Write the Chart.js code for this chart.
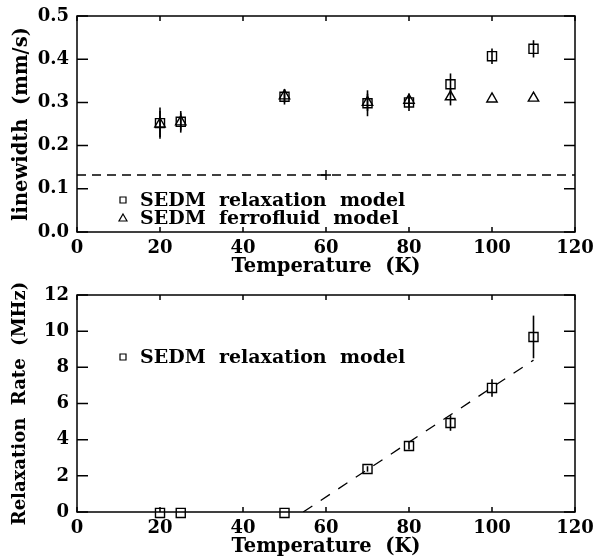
<!DOCTYPE html>
<html>
<head>
<meta charset="utf-8">
<script src="https://cdn.jsdelivr.net/npm/chart.js@4.4.1/dist/chart.umd.min.js"></script>
<style>
  body { margin: 0; background: #fff; }
  .panel { position: absolute; left: 0; width: 595px; }
</style>
</head>
<body>
<div class="panel" style="top:0;height:280px"><canvas id="linewidth" width="595" height="280"></canvas></div>
<div class="panel" style="top:266px;height:294px"><canvas id="rate" width="595" height="294"></canvas></div>
<script>
// Temperaturas medidas (K)
const temps = [20, 25, 50, 70, 80, 90, 100, 110];

// Painel de cima: largura de linha (mm/s)
const widthRelax = [0.252, 0.255, 0.313, 0.298, 0.300, 0.342, 0.407, 0.424];
const widthRelaxErr = [0.036, 0.025, 0.018, 0.030, 0.020, 0.025, 0.018, 0.020];
const widthFerro = [0.250, 0.255, 0.315, 0.300, 0.305, 0.313, 0.308, 0.310];
const widthFerroErr = [0.030, 0.020, 0.015, 0.020, 0.015, 0.020, 0, 0];
const baseTemps = [0, 120];
const baseWidth = [0.132, 0.132];
const baseMarkT = [60];
const baseMarkW = [0.132];

// Painel de baixo: taxa de relaxação (MHz)
const rate = [-0.05, -0.05, -0.05, 2.38, 3.65, 4.92, 6.86, 9.68];
const rateErr = [0, 0, 0, 0.15, 0.2, 0.43, 0.48, 1.18];
const fitTemps = [54.5, 110];
const fitRate = [0, 8.4];

const xTicks = [0, 20, 40, 60, 80, 100, 120];

Chart.defaults.font.family = "'DejaVu Serif', serif";
Chart.defaults.font.weight = 'bold';
Chart.defaults.font.size = 18;
Chart.defaults.color = '#000';
Chart.defaults.animation = false;

const pts = (xs, ys) => xs.map((x, i) => ({ x: x, y: ys[i] }));

// barras de erro + moldura com ticks para dentro + legenda
function extras(errs, legend) {
  return {
    id: 'extras',
    afterDatasetsDraw(chart) {
      const { ctx, chartArea: a, scales: { x, y } } = chart;
      ctx.save();
      ctx.strokeStyle = '#000';
      ctx.lineWidth = 1.6;
      // barras de erro
      errs.forEach(([di, vals]) => {
        chart.data.datasets[di].data.forEach((p, i) => {
          const e = vals[i];
          if (!e) return;
          const px = x.getPixelForValue(p.x);
          ctx.beginPath();
          ctx.moveTo(px, y.getPixelForValue(p.y - e));
          ctx.lineTo(px, y.getPixelForValue(p.y + e));
          ctx.stroke();
        });
      });
      // moldura
      ctx.lineWidth = 1.5;
      ctx.strokeRect(a.left, a.top, a.right - a.left, a.bottom - a.top);
      ctx.beginPath();
      x.ticks.forEach(t => {
        const px = x.getPixelForValue(t.value);
        ctx.moveTo(px, a.bottom); ctx.lineTo(px, a.bottom - 5);
        ctx.moveTo(px, a.top); ctx.lineTo(px, a.top + 5);
      });
      y.ticks.forEach(t => {
        const py = y.getPixelForValue(t.value);
        ctx.moveTo(a.left, py); ctx.lineTo(a.left + 11, py);
        ctx.moveTo(a.right, py); ctx.lineTo(a.right - 11, py);
      });
      ctx.stroke();
      // legenda
      ctx.font = "bold 19px 'DejaVu Serif', serif";
      ctx.fillStyle = '#000';
      ctx.lineWidth = 1.2;
      legend.forEach(item => {
        const mx = a.left + 46, my = a.top + item.dy;
        ctx.beginPath();
        if (item.style === 'rect') {
          ctx.rect(mx - 3, my - 3, 6, 6);
        } else {
          ctx.moveTo(mx, my - 4); ctx.lineTo(mx + 4, my + 3); ctx.lineTo(mx - 4, my + 3); ctx.closePath();
        }
        ctx.stroke();
        ctx.textBaseline = 'alphabetic';
        ctx.fillText(item.text, a.left + 63, my + 6);
      });
      ctx.restore();
    }
  };
}

function scalesFor(yMin, yMax, yStep, yTitle, yTitleSize, yFmt) {
  return {
    x: {
      type: 'linear', min: 0, max: 120,
      afterBuildTicks: s => { s.ticks = xTicks.map(v => ({ value: v })); },
      afterFit: s => { s.height = 48; s.paddingLeft = 0; s.paddingRight = 0; },
      grid: { display: false, drawTicks: false },
      border: { display: false },
      ticks: { padding: 6, maxRotation: 0 },
      title: { display: true, text: 'Temperature  (K)', font: { size: 19.5, weight: 'bold' }, padding: { top: 0, bottom: 1 } }
    },
    y: {
      type: 'linear', min: yMin, max: yMax,
      afterFit: s => { s.width = 77; s.paddingTop = 0; s.paddingBottom = 0; },
      grid: { display: false, drawTicks: false },
      border: { display: false },
      ticks: { stepSize: yStep, padding: 8, callback: yFmt },
      title: { display: true, text: yTitle, font: { size: yTitleSize, weight: 'bold' }, padding: { top: 10, bottom: 0 } }
    }
  };
}

new Chart(document.getElementById('linewidth'), {
  type: 'scatter',
  data: {
    datasets: [
      { data: pts(temps, widthRelax), pointStyle: 'rect', pointRadius: 6.4, borderColor: '#000', borderWidth: 1.4, backgroundColor: 'transparent', clip: false },
      { data: pts(temps, widthFerro), pointStyle: 'triangle', pointRadius: 6, borderColor: '#000', borderWidth: 1.4, backgroundColor: 'transparent', clip: false },
      { data: pts(baseTemps, baseWidth), showLine: true, pointRadius: 0, borderColor: '#000', borderWidth: 1.3, borderDash: [9, 6] },
      { data: pts(baseMarkT, baseMarkW), pointStyle: 'cross', pointRadius: 5, borderColor: '#000', borderWidth: 1.4 }
    ]
  },
  options: {
    responsive: false,
    layout: { padding: { top: 16, right: 20, left: 0, bottom: 0 } },
    plugins: { legend: { display: false }, tooltip: { enabled: false } },
    scales: scalesFor(0, 0.5, 0.1, 'linewidth  (mm/s)', 19.5, v => v.toFixed(1))
  },
  plugins: [extras([[0, widthRelaxErr], [1, widthFerroErr]], [
    { style: 'rect', text: 'SEDM  relaxation  model', dy: 184 },
    { style: 'tri', text: 'SEDM  ferrofluid  model', dy: 202 }
  ])]
});

new Chart(document.getElementById('rate'), {
  type: 'scatter',
  data: {
    datasets: [
      { data: pts(temps, rate), pointStyle: 'rect', pointRadius: 6.4, borderColor: '#000', borderWidth: 1.4, backgroundColor: 'transparent', clip: false },
      { data: pts(fitTemps, fitRate), showLine: true, pointRadius: 0, borderColor: '#000', borderWidth: 1.3, borderDash: [11, 10] }
    ]
  },
  options: {
    responsive: false,
    layout: { padding: { top: 29, right: 20, left: 0, bottom: 0 } },
    plugins: { legend: { display: false }, tooltip: { enabled: false } },
    scales: scalesFor(0, 12, 2, 'Relaxation  Rate  (MHz)', 18, v => String(v))
  },
  plugins: [extras([[0, rateErr]], [
    { style: 'rect', text: 'SEDM  relaxation  model', dy: 62 }
  ])]
});
</script>
</body>
</html>
